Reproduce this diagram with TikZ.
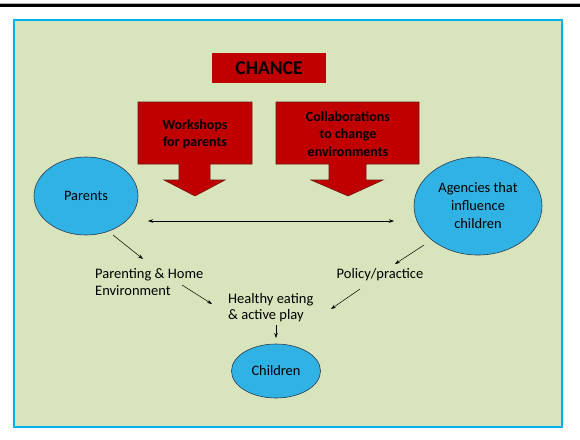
\documentclass[tikz,border=0pt]{standalone}
\usepackage{fontspec}
\setmainfont{Carlito}
\usetikzlibrary{arrows.meta,shapes.geometric}
\definecolor{bgreen}{RGB}{216,228,188}
\definecolor{bframe}{RGB}{0,176,240}
\definecolor{cred}{RGB}{192,0,0}
\definecolor{credline}{RGB}{110,20,20}
\definecolor{eblue}{RGB}{48,178,228}
\definecolor{eline}{RGB}{40,60,80}
\tikzset{
  oval/.style={ellipse, draw=eline, line width=0.6pt, fill=eblue, inner sep=0pt, align=center, font=\fontsize{14.4}{18}\selectfont},
  lbl/.style={align=left, inner sep=0pt, font=\fontsize{14.5}{16.8}\selectfont},
  conn/.style={-{Stealth[length=5pt,width=3.5pt]}, line width=0.5pt},
  blockarrow/.style={fill=cred, draw=credline, line width=0.6pt},
  btxt/.style={align=center, font=\bfseries\fontsize{14}{17}\selectfont}
}
\begin{document}
\begin{tikzpicture}[x=1pt,y=-1pt]
\useasboundingbox (0,0) rectangle (580,439);
% top rule
\fill[gray!60] (0,3) rectangle (580,4.4);
\fill[black] (0,4.4) rectangle (580,7);
% background panel
\draw[fill=bgreen, draw=bframe, line width=1.2pt] (14,20) rectangle (562,427);
% CHANCE
\node[fill=cred, minimum width=114pt, minimum height=30pt, inner sep=0pt, font=\bfseries\fontsize{19.5}{22}\selectfont] (chance) at (269,68) {CHANCE};
% block arrows
\draw[blockarrow] (138,102) -- (252,102) -- (252,164) -- (210,164) -- (210,180) -- (225,180) -- (195,196) -- (164,180) -- (179,180) -- (179,164) -- (138,164) -- cycle;
\node[btxt] (work) at (195,134) {Workshops\\for parents};
\draw[blockarrow] (276,102) -- (419,102) -- (419,164) -- (366,164) -- (366,180) -- (383,180) -- (348,196) -- (311,180) -- (329,180) -- (329,164) -- (276,164) -- cycle;
\node[btxt, font=\bfseries\fontsize{14}{17.5}\selectfont] (collab) at (348,134) {Collaborations\\to change\\environments};
% ellipses
\node[oval, minimum width=104pt, minimum height=78pt] (parents) at (86,196) {Parents};
\node[oval, minimum width=128pt, minimum height=98pt] (agencies) at (478,206) {Agencies that\\influence\\children};
\node[oval, minimum width=89pt, minimum height=54pt] (children) at (276,371) {Children};
% labels
\node[lbl, anchor=base west] (phe) at (95,295) {Parenting \& Home\\Environment};
\node[lbl, anchor=base] (policy) at (380,278) {Policy/practice};
\node[lbl, anchor=base west, font=\fontsize{14.5}{16}\selectfont] (healthy) at (228,319) {Healthy eating\\\& active play};
% connectors
\coordinate (dl) at (148,221);
\coordinate (dr) at (394,221);
\draw[{Stealth[length=5pt,width=3.5pt]}-{Stealth[length=5pt,width=3.5pt]}, line width=0.5pt] (dl) -- (dr);
\coordinate (p1) at (113,235); \coordinate (p2) at (143,259);
\draw[conn] (p1) -- (p2);
\coordinate (a1) at (424,245); \coordinate (a2) at (395,264);
\draw[conn] (a1) -- (a2);
\coordinate (e1) at (182,285); \coordinate (e2) at (212,304);
\draw[conn] (e1) -- (e2);
\coordinate (q1) at (360,289); \coordinate (q2) at (331,309);
\draw[conn] (q1) -- (q2);
\coordinate (h1) at (276,325); \coordinate (h2) at (276,338);
\draw[conn] (h1) -- (h2);
\end{tikzpicture}
\end{document}
